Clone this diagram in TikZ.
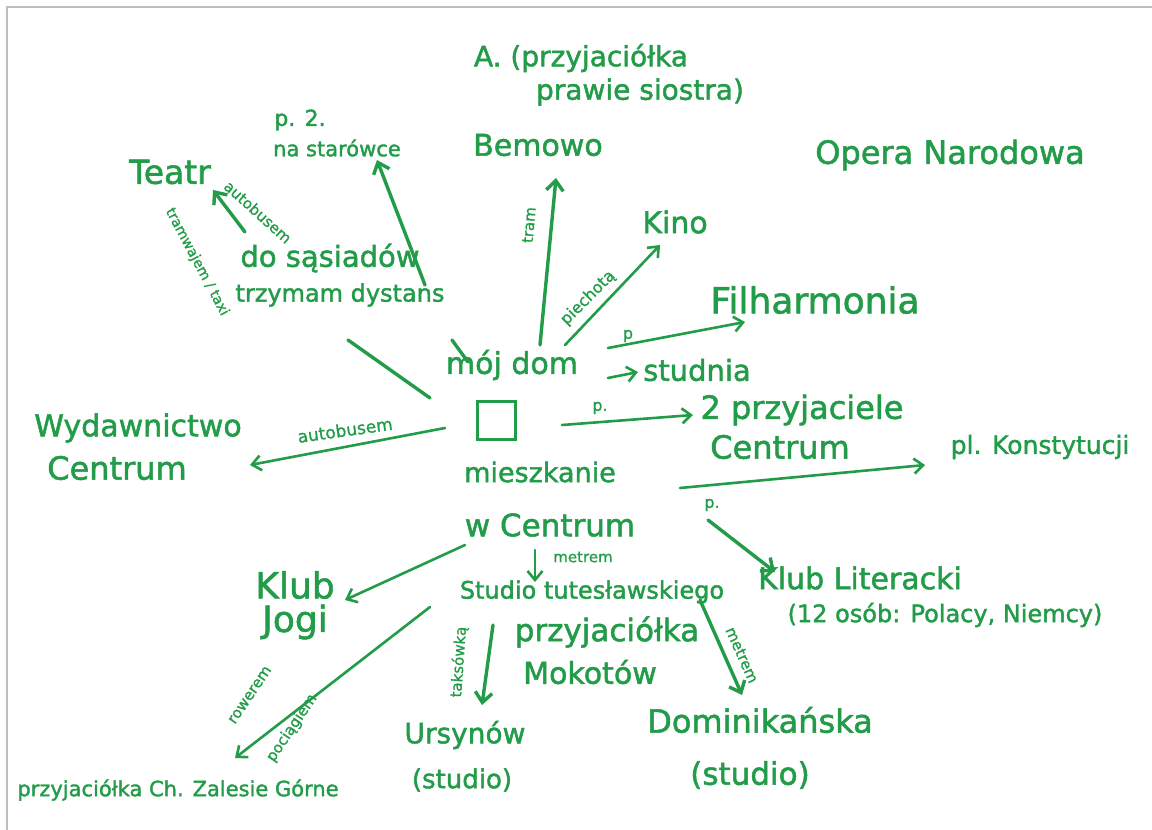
\documentclass[tikz,border=0pt]{standalone}
\usepackage{fontspec}
\newfontfamily\hw[FakeBold=1.6]{DejaVu Sans}
\newfontfamily\hwl[FakeBold=1.0]{DejaVu Sans}
\usetikzlibrary{arrows.meta}
\definecolor{ink}{RGB}{34,156,72}
\definecolor{frame}{RGB}{190,190,190}
\tikzset{
  txt/.style={text=ink, inner sep=0pt, align=center, font=\hw\fontsize{#1}{#1}\selectfont},
  lbl/.style={text=ink, inner sep=0pt, font=\hwl\fontsize{#1}{#1}\selectfont},
  con/.style={draw=ink, line width=3.4pt, line cap=round},
  arr/.style={con, -{Straight Barb[length=10pt,width=17pt]}},
  thin arr/.style={draw=ink, line width=2.6pt, line cap=round, -{Straight Barb[length=9pt,width=15pt]}},
  homebox/.style={draw=ink, line width=3pt, minimum width=38pt, minimum height=38pt, inner sep=0pt}
}
\begin{document}
\begin{tikzpicture}[x=1pt,y=-1pt]
\useasboundingbox (0,0) rectangle (1152,830);
\fill[white] (0,0) rectangle (1152,830);
% frame of the scanned page
\coordinate (fbl) at (7,830);
\coordinate (ftl) at (7,6.5);
\coordinate (ftr) at (1152,6.5);
\draw[frame, line width=2pt] (fbl) -- (ftl) -- (ftr);

% ---- text nodes ----
\node[txt=28] (a1) at (581,58) {A. (przyjaciółka};
\node[txt=28] (a2) at (640,92) {prawie siostra)};
\node[txt=30] (bem) at (538,145) {Bemowo};
\node[txt=22] (p2a) at (300,120) {p. 2.};
\node[txt=21] (p2b) at (337,148) {na starówce};
\node[txt=33] (teatr) at (170,172) {Teatr};
\node[txt=29] (sas1) at (330,258) {do sąsiadów};
\node[txt=24] (sas2) at (340,295) {trzymam dystans};
\node[txt=30] (dom) at (512,365) {mój dom};
\node[homebox] (box) at (496,420) {};
\node[txt=29] (stud) at (697,370) {studnia};
\node[txt=30] (kino) at (675,222) {Kino};
\node[txt=36] (filh) at (815,300) {Filharmonia};
\node[txt=32] (opera) at (950,155) {Opera Narodowa};
\node[txt=30] (wyd1) at (138,428) {Wydawnictwo};
\node[txt=32] (wyd2) at (117,468) {Centrum};
\node[txt=32] (prz1) at (802,410) {2 przyjaciele};
\node[txt=32] (prz2) at (780,447) {Centrum};
\node[txt=25] (konst) at (1040,447) {pl. Konstytucji};
\node[txt=27] (mies1) at (540,472) {mieszkanie};
\node[txt=31] (mies2) at (550,525) {w Centrum};
\node[txt=24] (studio) at (592,592) {Studio tutesławskiego};
\node[txt=31] (mok1) at (607,632) {przyjaciółka};
\node[txt=30] (mok2) at (590,672) {Mokotów};
\node[txt=36] (klub1) at (295,585) {Klub};
\node[txt=36] (klub2) at (295,622) {Jogi};
\node[txt=21] (zal) at (178,790) {przyjaciółka Ch. Zalesie Górne};
\node[txt=28] (urs1) at (465,735) {Ursynów};
\node[txt=26] (urs2) at (462,780) {(studio)};
\node[txt=32] (dom1) at (760,720) {Dominikańska};
\node[txt=31] (dom2) at (750,775) {(studio)};
\node[txt=30] (lit1) at (860,578) {Klub Literacki};
\node[txt=24] (lit2) at (945,615) {(12 osób: Polacy, Niemcy)};

% ---- connector end points ----
\coordinate (sasS) at (348,340);   \coordinate (boxNW) at (430,398);
\coordinate (dysS) at (452,340);   \coordinate (domW) at (468,362);
\coordinate (tS) at (245,232);     \coordinate (tE) at (213,190);
\coordinate (pS) at (425,285);     \coordinate (pE) at (377,160);
\coordinate (bS) at (540,345);     \coordinate (bE) at (556,178);
\coordinate (kS) at (565,345);     \coordinate (kE) at (660,245);
\coordinate (fS) at (608,348);     \coordinate (fE) at (745,322);
\coordinate (sS) at (608,378);     \coordinate (sE) at (638,372);
\coordinate (wS) at (445,428);     \coordinate (wE) at (250,465);
\coordinate (zS) at (562,425);     \coordinate (zE) at (693,415);
\coordinate (cS) at (680,488);     \coordinate (cE) at (925,465);
\coordinate (mS) at (535,550);     \coordinate (mE) at (535,582);
\coordinate (jS) at (465,545);     \coordinate (jE) at (345,600);
\coordinate (gS) at (430,607);     \coordinate (gE) at (235,758);
\coordinate (uS) at (493,625);     \coordinate (uE) at (482,705);
\coordinate (dS) at (700,600);     \coordinate (dE) at (742,695);
\coordinate (lS) at (708,520);     \coordinate (lE) at (775,572);

% ---- connectors ----
\draw[con] (sasS) -- (boxNW);
\draw[con] (dysS) -- (domW);
\draw[arr] (tS) -- (tE);
\draw[arr] (pS) -- (pE);
\draw[arr] (bS) -- (bE);
\draw[thin arr] (kS) -- (kE);
\draw[thin arr] (fS) -- (fE);
\draw[thin arr] (sS) -- (sE);
\draw[thin arr] (wS) -- (wE);
\draw[thin arr] (zS) -- (zE);
\draw[thin arr] (cS) -- (cE);
\draw[thin arr] (mS) -- (mE);
\draw[thin arr] (jS) -- (jE);
\draw[thin arr] (gS) -- (gE);
\draw[arr] (uS) -- (uE);
\draw[arr] (dS) -- (dE);
\draw[arr] (lS) -- (lE);

% ---- connector labels ----
\node[lbl=15, rotate=-42] (l1) at (258,212) {autobusem};
\node[lbl=14, rotate=-62] (l2) at (197,262) {tramwajem / taxi};
\node[lbl=15, rotate=85] (l3) at (529,225) {tram};
\node[lbl=16, rotate=45] (l4) at (588,298) {piechotą};
\node[lbl=16] (l5) at (628,336) {p};
\node[lbl=17, rotate=8] (l6) at (345,430) {autobusem};
\node[lbl=16] (l7) at (600,408) {p.};
\node[lbl=16] (l8) at (712,505) {p.};
\node[lbl=15] (l9) at (583,557) {metrem};
\node[lbl=15, rotate=56] (l10) at (250,695) {rowerem};
\node[lbl=15, rotate=56] (l11) at (292,728) {pociągiem};
\node[lbl=15, rotate=86] (l12) at (459,662) {taksówką};
\node[lbl=15, rotate=-66] (l13) at (742,655) {metrem};
\end{tikzpicture}
\end{document}
